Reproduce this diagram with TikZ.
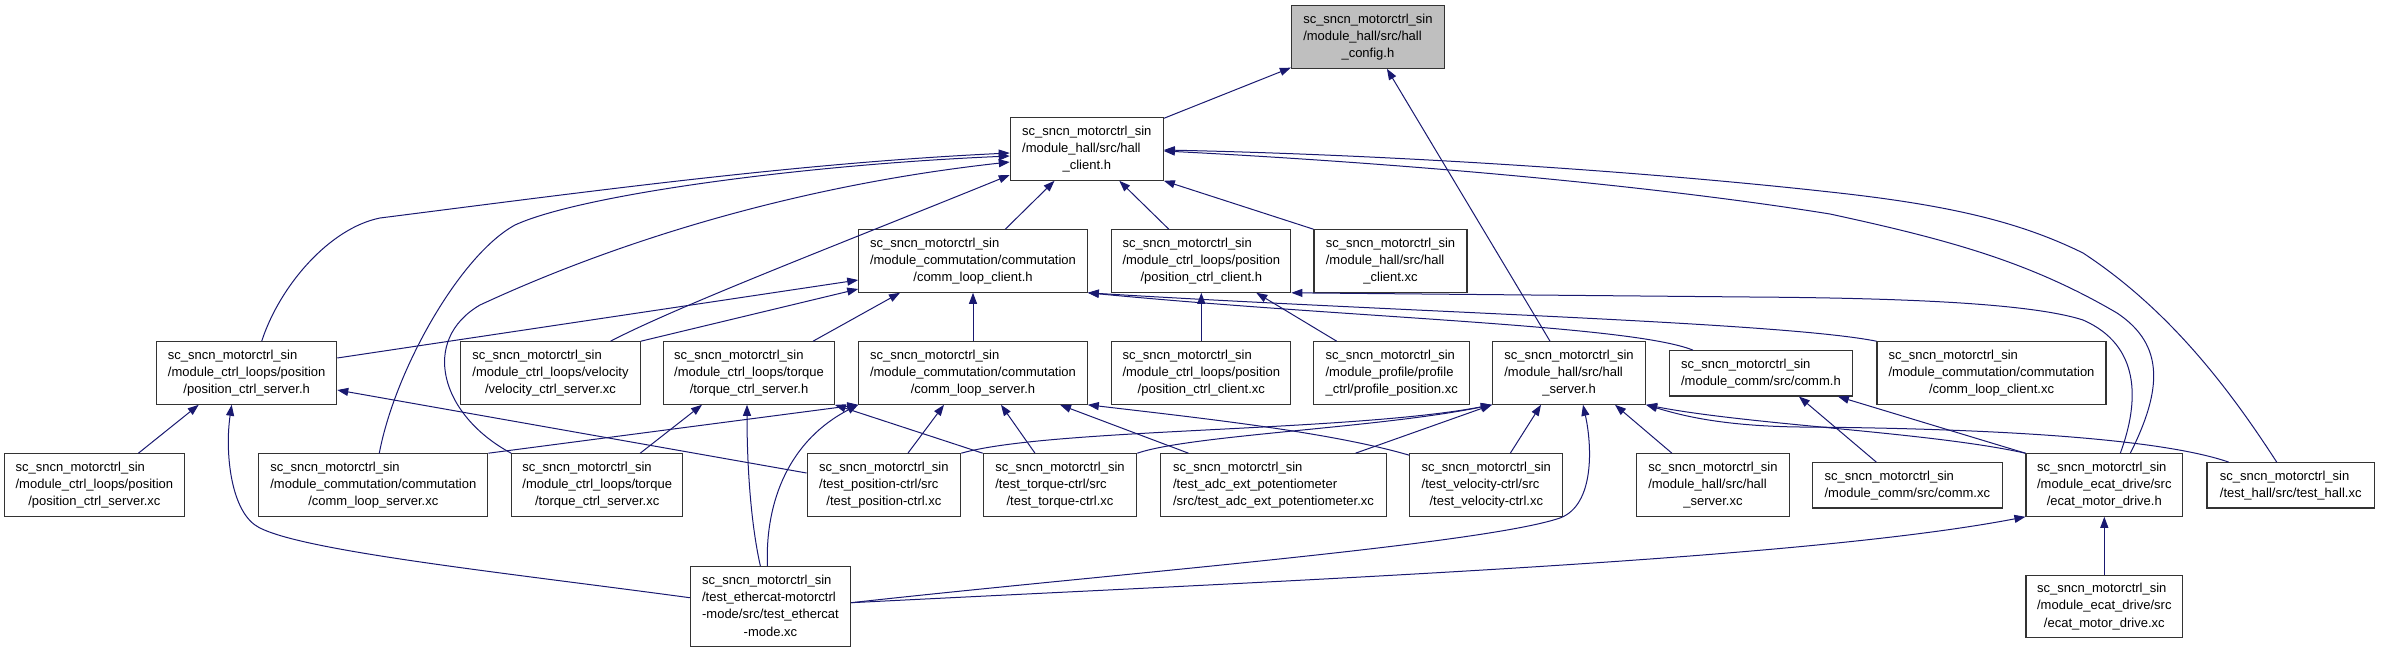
\documentclass[tikz,border=0pt]{standalone}
\usepackage{fontspec}
\setmainfont{Liberation Sans}
\usetikzlibrary{arrows.meta}
\definecolor{edgecol}{HTML}{191970}
\definecolor{rootfill}{HTML}{BFBFBF}
\newcommand\lblthree[3]{\begin{tabular}{@{}l@{}}#1\\#2\\\multicolumn{1}{@{}c@{}}{#3}\end{tabular}}
\newcommand\lbltwo[2]{\begin{tabular}{@{}l@{}}#1\\\multicolumn{1}{@{}c@{}}{#2}\end{tabular}}
\newcommand\lblfour[4]{\begin{tabular}{@{}l@{}}#1\\#2\\#3\\\multicolumn{1}{@{}c@{}}{#4}\end{tabular}}
\newcommand\snm{sc\_sncn\_motorctrl\_sin}
\tikzset{
  box/.style={draw=black!80, line width=1.1pt, fill=white, inner sep=0pt,
    font=\fontsize{13}{17.4}\selectfont, minimum height=62.5pt},
  twobox/.style={box, minimum height=45.3pt},
  edge/.style={draw=edgecol, line width=1pt, -{Triangle[length=11pt,width=8pt]}},
}
\begin{document}
\begin{tikzpicture}[x=1pt,y=-1pt]
\useasboundingbox (0,0) rectangle (2381,653);
% row 0
\node[box, fill=rootfill, minimum width=153pt] (cfg) at (1367.9,37) {\lblthree{\snm}{/module\_hall/src/hall}{\_config.h}};
% row 1
\node[box, minimum width=153pt] (hclient) at (1086.8,149) {\lblthree{\snm}{/module\_hall/src/hall}{\_client.h}};
% row 2
\node[box, minimum width=228.5pt] (clc) at (973,261) {\lblthree{\snm}{/module\_commutation/commutation}{/comm\_loop\_client.h}};
\node[box, minimum width=179pt] (pcc) at (1201.3,261) {\lblthree{\snm}{/module\_ctrl\_loops/position}{/position\_ctrl\_client.h}};
\node[box, minimum width=153pt] (hcxc) at (1390.5,261) {\lblthree{\snm}{/module\_hall/src/hall}{\_client.xc}};
% row 3
\node[box, minimum width=180pt] (pcs) at (246.7,373) {\lblthree{\snm}{/module\_ctrl\_loops/position}{/position\_ctrl\_server.h}};
\node[box, minimum width=179.6pt] (vcs) at (550.5,373) {\lblthree{\snm}{/module\_ctrl\_loops/velocity}{/velocity\_ctrl\_server.xc}};
\node[box, minimum width=170.5pt] (tcs) at (749,373) {\lblthree{\snm}{/module\_ctrl\_loops/torque}{/torque\_ctrl\_server.h}};
\node[box, minimum width=228.5pt] (cls) at (973,373) {\lblthree{\snm}{/module\_commutation/commutation}{/comm\_loop\_server.h}};
\node[box, minimum width=179pt] (pccxc) at (1201.3,373) {\lblthree{\snm}{/module\_ctrl\_loops/position}{/position\_ctrl\_client.xc}};
\node[box, minimum width=156pt] (ppxc) at (1391.7,373) {\lblthree{\snm}{/module\_profile/profile}{\_ctrl/profile\_position.xc}};
\node[box, minimum width=153pt] (hserv) at (1569,373) {\lblthree{\snm}{/module\_hall/src/hall}{\_server.h}};
\node[twobox, minimum width=183pt] (commh) at (1760.9,373.3) {\lbltwo{\snm}{/module\_comm/src/comm.h}};
\node[box, minimum width=229pt] (clcxc) at (1991.5,373) {\lblthree{\snm}{/module\_commutation/commutation}{/comm\_loop\_client.xc}};
% row 4
\node[box, minimum width=179.6pt] (pcsxc) at (94.4,485) {\lblthree{\snm}{/module\_ctrl\_loops/position}{/position\_ctrl\_server.xc}};
\node[box, minimum width=229pt] (clsxc) at (373.3,485) {\lblthree{\snm}{/module\_commutation/commutation}{/comm\_loop\_server.xc}};
\node[box, minimum width=171pt] (tcsxc) at (597.2,485) {\lblthree{\snm}{/module\_ctrl\_loops/torque}{/torque\_ctrl\_server.xc}};
\node[box, minimum width=153.6pt] (tpos) at (883.9,485) {\lblthree{\snm}{/test\_position-ctrl/src}{/test\_position-ctrl.xc}};
\node[box, minimum width=153.5pt] (ttor) at (1060,485) {\lblthree{\snm}{/test\_torque-ctrl/src}{/test\_torque-ctrl.xc}};
\node[box, minimum width=226.5pt] (tadc) at (1273.5,485) {\lblthree{\snm}{/test\_adc\_ext\_potentiometer}{/src/test\_adc\_ext\_potentiometer.xc}};
\node[box, minimum width=153pt] (tvel) at (1486.3,485) {\lblthree{\snm}{/test\_velocity-ctrl/src}{/test\_velocity-ctrl.xc}};
\node[box, minimum width=152.6pt] (hsxc) at (1712.9,485) {\lblthree{\snm}{/module\_hall/src/hall}{\_server.xc}};
\node[twobox, minimum width=190.3pt] (commxc) at (1907.3,485.3) {\lbltwo{\snm}{/module\_comm/src/comm.xc}};
\node[box, minimum width=156.7pt] (emdh) at (2104.3,485) {\lblthree{\snm}{/module\_ecat\_drive/src}{/ecat\_motor\_drive.h}};
\node[twobox, minimum width=167.4pt] (thall) at (2290.7,485.3) {\lbltwo{\snm}{/test\_hall/src/test\_hall.xc}};
% row 5
\node[box, minimum width=160.2pt, minimum height=80pt] (teth) at (770.4,606.7) {\lblfour{\snm}{/test\_ethercat-motorctrl}{-mode/src/test\_ethercat}{-mode.xc}};
\node[box, minimum width=156.7pt] (emdxc) at (2104.3,606.5) {\lblthree{\snm}{/module\_ecat\_drive/src}{/ecat\_motor\_drive.xc}};

% edges
\draw[edge] (hclient) -- (cfg);
\draw[edge] (hserv) -- (cfg);
\draw[edge] (clc) -- (hclient);
\draw[edge] (pcc) -- (hclient);
\draw[edge] (hcxc.north west) -- (hclient.south east);
\draw[edge] ([xshift=15pt]pcs.north) .. controls (280,285) and (330,228) .. (380,218)
  .. controls (600,190) and (800,163) .. ([yshift=-4pt]hclient.west);
\draw[edge] ([xshift=6pt]clsxc.north) .. controls (395,370) and (460,255) .. (515,225)
  .. controls (580,195) and (800,165) .. ([yshift=-7pt]hclient.west);
\draw[edge] (tcsxc.north west) .. controls (440,415) and (420,340) .. (480,305)
  .. controls (620,240) and (800,185) .. ([yshift=-13pt]hclient.west);
\draw[edge] ([xshift=60pt]vcs.north) .. controls (680,305) and (850,240) .. ([yshift=-26pt]hclient.west);
\draw[edge] ([xshift=26pt]emdh.north) .. controls (2162,390) and (2165,345) .. (2117,313)
  .. controls (2030,262) and (1950,240) .. (1830,214)
  .. controls (1650,185) and (1400,163) .. ([yshift=-2pt]hclient.east);
\draw[edge] ([xshift=-14pt]thall.north) .. controls (2230,390) and (2170,310) .. (2083,253)
  .. controls (2020,222) and (1950,205) .. (1830,192)
  .. controls (1650,172) and (1400,155) .. ([yshift=-1pt]hclient.east);
\draw[edge] ([yshift=15pt]pcs.east) -- ([yshift=-19pt]clc.west);
\draw[edge] (vcs.north east) -- ([yshift=-28pt]clc.west);
\draw[edge] ([xshift=64pt]tcs.north) -- ([xshift=-73pt]clc.south);
\draw[edge] (cls.north) -- (clc.south);
\draw[edge] ([xshift=-68pt]commh.north) .. controls (1630,325) and (1350,318) .. (clc.south east);
\draw[edge] (clcxc.north west) .. controls (1780,322) and (1400,312) .. (clc.south east);
\draw[edge] (pccxc.north) -- (pcc.south);
\draw[edge] ([xshift=-55pt]ppxc.north) -- ([xshift=55pt]pcc.south);
\draw[edge] ([xshift=16pt]emdh.north) .. controls (2140,400) and (2140,345) .. (2083,320)
  .. controls (2030,303) and (1900,298) .. (1750,297) -- (pcc.south east);
\draw[edge] ([xshift=44pt]pcsxc.north) -- ([xshift=-48pt]pcs.south);
\draw[edge] ([yshift=12pt]tpos.west) -- ([yshift=-17pt]pcs.east);
\draw[edge] ([yshift=9pt]teth.west) .. controls (500,572) and (290,550) .. (255,525)
  .. controls (230,507) and (225,450) .. ([xshift=-15pt]pcs.south);
\draw[edge] ([xshift=43pt]tcsxc.north) -- ([xshift=-47pt]tcs.south);
\draw[edge] ([xshift=-10pt]teth.north) .. controls (750,520) and (747,460) .. ([xshift=-2pt]tcs.south);
\draw[edge] (ttor.north west) -- (tcs.south east);
\draw[edge] (clsxc.north east) -- (cls.south west);
\draw[edge] ([xshift=-3pt]teth.north) .. controls (765,500) and (790,440) .. (cls.south west);
\draw[edge] ([xshift=24pt]tpos.north) -- ([xshift=-29pt]cls.south);
\draw[edge] ([xshift=-25pt]ttor.north) -- ([xshift=28pt]cls.south);
\draw[edge] ([xshift=-85pt]tadc.north) -- ([xshift=87pt]cls.south);
\draw[edge] ([yshift=-2pt]tvel.north west) .. controls (1330,432) and (1200,418) .. (cls.south east);
\draw[edge] (tpos.north east) .. controls (1050,428) and (1350,432) .. (hserv.south west);
\draw[edge] (ttor.north east) .. controls (1190,435) and (1380,428) .. (hserv.south west);
\draw[edge] ([xshift=82pt]tadc.north) -- (hserv.south west);
\draw[edge] ([xshift=24pt]tvel.north) -- ([xshift=-28pt]hserv.south);
\draw[edge] ([yshift=4pt]teth.east) .. controls (1100,575) and (1480,545) .. (1560,518)
  .. controls (1595,505) and (1592,445) .. ([xshift=14pt]hserv.south);
\draw[edge] ([xshift=-41pt]hsxc.north) -- ([xshift=46pt]hserv.south);
\draw[edge] (emdh.north west) .. controls (1930,432) and (1750,425) .. (hserv.south east);
\draw[edge] ([xshift=-62pt]thall.north) .. controls (2150,435) and (1950,428) .. (1800,427)
  .. controls (1720,426) and (1680,415) .. (hserv.south east);
\draw[edge] ([xshift=-31pt]commxc.north) -- ([xshift=38pt]commh.south);
\draw[edge] (emdh.north west) -- ([xshift=77pt]commh.south);
\draw[edge] (emdxc.north) -- (emdh.south);
\draw[edge] ([yshift=4pt]teth.east) .. controls (1300,580) and (1800,560) .. (emdh.south west);
\end{tikzpicture}
\end{document}
